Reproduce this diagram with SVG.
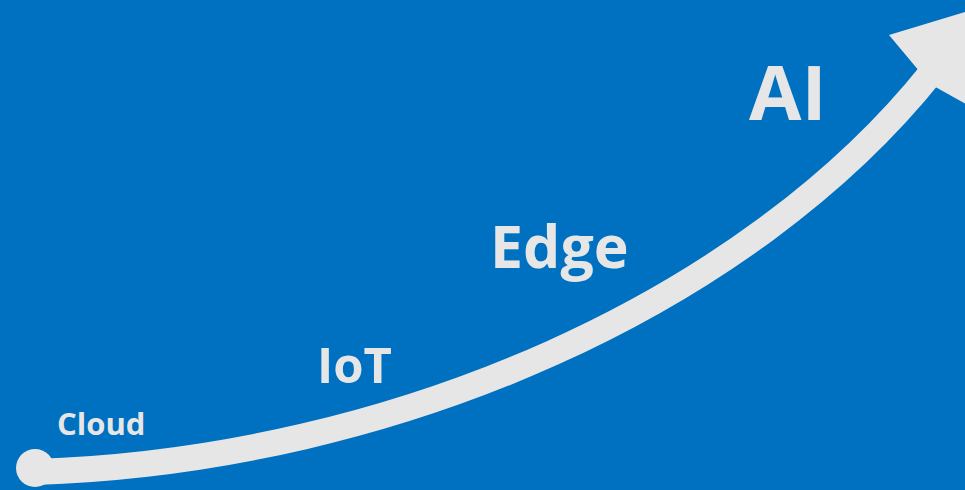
<svg xmlns="http://www.w3.org/2000/svg" width="965" height="490" viewBox="0 0 965 490">
<style>
.lbl{font-family:"Open Sans","Liberation Sans",sans-serif;font-weight:700;fill:#E7E6E6}
.shaft{fill:none;stroke:#E7E6E6;stroke-width:26}
.head{fill:#E7E6E6}
</style>
<rect x="0" y="0" width="965" height="490" fill="#0070C0"/>
<g id="connectors">
<circle class="head" cx="35" cy="468" r="19"/>
<path class="shaft" d="M35,472 C400,460 750,300 932,72"/>
<polygon class="head" points="889,35 998,2 986,115 930,84"/>
</g>
<g id="cloud"><text class="lbl" x="57" y="435" font-size="31">Cloud</text></g>
<g id="iot"><text class="lbl" x="317" y="383" font-size="49">IoT</text></g>
<g id="edge"><text class="lbl" x="490" y="268" font-size="59">Edge</text></g>
<g id="ai"><text class="lbl" x="749" y="120" font-size="76">AI</text></g>
</svg>
